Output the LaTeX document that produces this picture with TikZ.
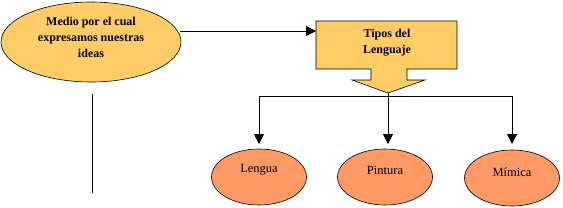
\documentclass[tikz,border=0pt]{standalone}
\usepackage{fontspec}
\setmainfont{Liberation Serif}
\usetikzlibrary{arrows.meta,shapes.geometric}
\definecolor{lightor}{HTML}{FFCC66}
\definecolor{salmon}{HTML}{FF9966}
\tikzset{
  conn/.style={line width=0.8pt,-{Triangle[length=10pt,width=10pt]}},
  plain/.style={line width=0.8pt},
  bigell/.style={ellipse,draw,line width=0.6pt,fill=lightor,minimum width=180pt,minimum height=80pt,inner sep=0pt},
  smallell/.style={ellipse,draw,line width=0.6pt,fill=salmon,minimum width=95pt,minimum height=56pt,inner sep=0pt},
  txt/.style={font=\fontsize{12}{16}\selectfont\bfseries,align=center,inner sep=0pt},
  ltxt/.style={font=\fontsize{12.5}{14}\selectfont,inner sep=0pt}
}
\begin{document}
\begin{tikzpicture}[x=1pt,y=-1pt]
\useasboundingbox (0,0) rectangle (563,207);
% top ellipse
\node[bigell] (medio) at (91,42) {};
\node[txt] (mediotxt) at (91,37) {Medio por el cual\\expresamos nuestras\\ideas};
% callout
\draw[line width=0.6pt,fill=lightor] (316,21) -- (457,21) -- (457,69) -- (407,69) -- (407,80) -- (425,80)
  -- (388,93) -- (352,80) -- (371,80) -- (371,69) -- (316,69) -- cycle;
\node[txt] (tipos) at (387,43) {Tipos del\\Lenguaje};
\coordinate (tipL) at (316,31);
\coordinate (medR) at (180,31);
\draw[conn] (medR) -- (tipL);
% branch
\coordinate (tip) at (388,93);
\coordinate (bar) at (388,96);
\coordinate (barL) at (259,96);
\coordinate (barR) at (512,96);
\node[smallell] (lengua) at (259,177) {};
\node[smallell] (pintura) at (385,177) {};
\node[smallell] (mimica) at (512,178) {};
\node[ltxt] (lenguat) at (259,170) {Lengua};
\node[ltxt] (pinturat) at (385,170) {Pintura};
\node[ltxt] (mimicat) at (512,172) {Mímica};
\draw[plain] (tip) -- (bar);
\draw[plain] (barL) -- (barR);
\draw[conn] (barL) -- (259,144);
\draw[conn] (bar) -- (388,144);
\draw[conn] (barR) -- (512,144);
% left line
\coordinate (lt) at (92,94);
\coordinate (lb) at (92,193);
\draw[plain] (lt) -- (lb);
\end{tikzpicture}
\end{document}
